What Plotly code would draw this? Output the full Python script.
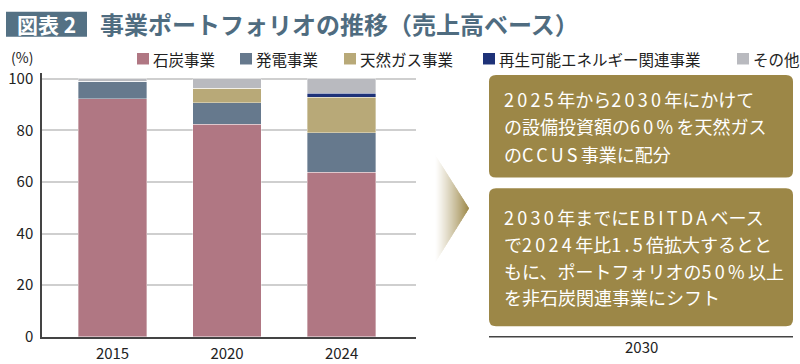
import re
import plotly.graph_objects as go

# ---------------- data ----------------
years = ["2015", "2020", "2024"]
series_names = ["石炭事業", "発電事業", "天然ガス事業", "再生可能エネルギー関連事業", "その他"]
coal = [92.2, 82.3, 63.8]
power = [6.8, 8.5, 15.3]
gas = [0.0, 5.5, 13.8]
renew = [0.0, 0.0, 1.5]
other = [1.0, 3.7, 5.6]
series_values = [coal, power, gas, renew, other]
series_colors = ["#b07783", "#66798d", "#b8a978", "#1e3278", "#b9babf"]
y_ticks = [0, 20, 40, 60, 80, 100]
future_label = "2030"
box1_lines = ["2025年から2030年にかけて", "の設備投資額の60%を天然ガス", "のCCUS事業に配分"]
box2_lines = ["2030年までにEBITDAベース", "で2024年比1.5倍拡大するとと", "もに、ポートフォリオの50%以上", "を非石炭関連事業にシフト"]
title_tag = "図表 2"
title_text = "事業ポートフォリオの推移（売上高ベース）"

W, H = 800, 364
FONT = "Noto Sans CJK JP"
GOLD = "#9c8747"
TITLE_C = "#4f6c80"


def X(px):
    return px / W


def Y(py):
    return 1 - py / H


def spaced(s, sp=3.3):
    return re.sub(r"([0-9A-Za-z%.]+)", lambda m: '<span style="letter-spacing:{}px">{}</span>'.format(sp, m.group(1)), s)


fig = go.Figure()
for name, vals, col in zip(series_names, series_values, series_colors):
    fig.add_trace(go.Bar(
        x=years, y=vals, name=name, marker=dict(color=col, line=dict(color="rgba(255,255,255,0.6)", width=0.6)),
        width=0.6, showlegend=False, hoverinfo="x+y+name"))

shapes = []
annotations = []

# title
shapes.append(dict(type="rect", xref="paper", yref="paper", x0=X(6), x1=X(87), y0=Y(32), y1=Y(6),
                   fillcolor="#547184", line=dict(width=0), layer="above"))
annotations.append(dict(xref="paper", yref="paper", x=X(46.5), y=Y(19), text="<b>" + title_tag + "</b>",
                        showarrow=False, xanchor="center", yanchor="middle",
                        font=dict(family=FONT, size=21, color="white")))
annotations.append(dict(xref="paper", yref="paper", x=X(98), y=Y(18), text="<b>" + title_text + "</b>",
                        showarrow=False, xanchor="left", yanchor="middle",
                        font=dict(family=FONT, size=24, color=TITLE_C)))

# legend (manual)
leg_x = [137, 240, 344, 483, 737]
for lx, name, col in zip(leg_x, series_names, series_colors):
    shapes.append(dict(type="rect", xref="paper", yref="paper", x0=X(lx), x1=X(lx + 12), y0=Y(61), y1=Y(49),
                       fillcolor=col, line=dict(width=0)))
    annotations.append(dict(xref="paper", yref="paper", x=X(lx + 14), y=Y(55), text=name, showarrow=False,
                            xanchor="left", yanchor="middle", font=dict(family=FONT, size=15.5, color="#222")))

# (%) label
annotations.append(dict(xref="paper", yref="paper", x=X(22), y=Y(53), text="(%)", showarrow=False,
                        xanchor="center", yanchor="middle", font=dict(family=FONT, size=14, color="#222")))

# chevron with gradient (vertical strips)
cx0, cx1, ctop, ctip, cbot = 435.0, 469.0, 155.0, 211.0, 268.0
n = 34
g = (0x9c, 0x87, 0x47)


def ctop_y(x):
    return ctop + (x - cx0) * (ctip - ctop) / (cx1 - cx0)


def cbot_y(x):
    return cbot - (x - cx0) * (cbot - ctip) / (cx1 - cx0)


for i in range(n):
    a = cx0 + (cx1 - cx0) * i / n
    b = min(cx0 + (cx1 - cx0) * (i + 1) / n + 0.6, cx1)
    t = (i + 0.5) / n
    f = t ** 1.2
    c = tuple(int(round(255 + (gc - 255) * f)) for gc in g)
    path = "M {} {} L {} {} L {} {} L {} {} Z".format(X(a), Y(ctop_y(a)), X(b), Y(ctop_y(b)),
                                                      X(b), Y(cbot_y(b)), X(a), Y(cbot_y(a)))
    shapes.append(dict(type="path", xref="paper", yref="paper", path=path,
                       fillcolor="rgb({},{},{})".format(*c), line=dict(width=0)))


def rrect(x0, y0, x1, y1, r):
    p = "M {} {} ".format(X(x0 + r), Y(y0))
    p += "L {} {} ".format(X(x1 - r), Y(y0))
    p += "Q {} {} {} {} ".format(X(x1), Y(y0), X(x1), Y(y0 + r))
    p += "L {} {} ".format(X(x1), Y(y1 - r))
    p += "Q {} {} {} {} ".format(X(x1), Y(y1), X(x1 - r), Y(y1))
    p += "L {} {} ".format(X(x0 + r), Y(y1))
    p += "Q {} {} {} {} ".format(X(x0), Y(y1), X(x0), Y(y1 - r))
    p += "L {} {} ".format(X(x0), Y(y0 + r))
    p += "Q {} {} {} {} Z".format(X(x0), Y(y0), X(x0 + r), Y(y0))
    return p


shapes.append(dict(type="path", xref="paper", yref="paper", path=rrect(489, 72, 793, 179, 7),
                   fillcolor=GOLD, line=dict(width=0)))
shapes.append(dict(type="path", xref="paper", yref="paper", path=rrect(489, 190, 793, 334, 7),
                   fillcolor=GOLD, line=dict(width=0)))

for i, line in enumerate(box1_lines):
    annotations.append(dict(xref="paper", yref="paper", x=X(502), y=Y(97 + 28.5 * i), text=spaced(line),
                            showarrow=False, xanchor="left", yanchor="middle",
                            font=dict(family=FONT, size=18, color="white")))
for i, line in enumerate(box2_lines):
    annotations.append(dict(xref="paper", yref="paper", x=X(502), y=Y(220 + 28 * i), text=spaced(line),
                            showarrow=False, xanchor="left", yanchor="middle",
                            font=dict(family=FONT, size=18, color="white")))

# 2030 axis
shapes.append(dict(type="line", xref="paper", yref="paper", x0=X(489), x1=X(793), y0=Y(345), y1=Y(345),
                   line=dict(color="#444", width=1.5)))
annotations.append(dict(xref="paper", yref="paper", x=X(641), y=Y(355), text=future_label, showarrow=False,
                        xanchor="center", yanchor="middle", font=dict(family=FONT, size=15, color="#222")))

fig.update_layout(
    width=W, height=H, margin=dict(l=0, r=0, t=0, b=0),
    paper_bgcolor="white", plot_bgcolor="white",
    barmode="stack", bargap=0.4,
    shapes=shapes, annotations=annotations,
    font=dict(family=FONT, color="#222"),
    xaxis=dict(domain=[X(42), X(416)], range=[-0.616, 2.65], type="category",
               showline=True, linecolor="#444", linewidth=1.5, ticks="", showgrid=False,
               ticklabelstandoff=2,
               tickfont=dict(family=FONT, size=15, color="#222")),
    yaxis=dict(domain=[Y(345), Y(70)], range=[0, 102.2], tickvals=y_ticks,
               showline=True, linecolor="#444", linewidth=1.5, ticks="",
               showgrid=True, gridcolor="#cfcfcf", gridwidth=1.5, zeroline=False,
               ticklabelstandoff=4,
               tickfont=dict(family=FONT, size=15, color="#222")),
)

fig.write_html("out.html", config={"displayModeBar": False},
               post_script="document.body.style.margin='0';document.body.style.overflow='hidden';")
